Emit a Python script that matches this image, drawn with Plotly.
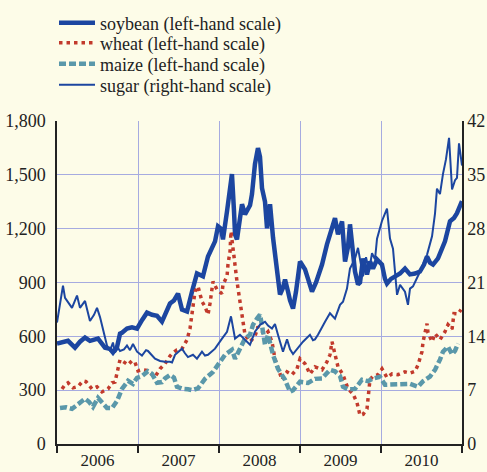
import plotly.graph_objects as go

# ---- data (x = decimal year) ----
soy_t = [2006.0, 2006.074, 2006.136, 2006.222, 2006.284, 2006.346, 2006.407, 2006.506, 2006.593, 2006.654,
         2006.691, 2006.741, 2006.778, 2006.802, 2006.864, 2006.926, 2006.988, 2007.049, 2007.111, 2007.173,
         2007.235, 2007.296, 2007.346, 2007.395, 2007.444, 2007.494, 2007.543, 2007.605, 2007.667, 2007.728,
         2007.802, 2007.864, 2007.951, 2007.988, 2008.025, 2008.049, 2008.099, 2008.136, 2008.160, 2008.185,
         2008.198, 2008.222, 2008.259, 2008.284, 2008.321, 2008.346, 2008.383, 2008.407, 2008.444, 2008.481,
         2008.506, 2008.531, 2008.568, 2008.593, 2008.630, 2008.667, 2008.691, 2008.728, 2008.753, 2008.790,
         2008.815, 2008.852, 2008.877, 2008.914, 2008.951, 2009.0, 2009.037, 2009.062, 2009.099, 2009.148,
         2009.198, 2009.272, 2009.333, 2009.395, 2009.432, 2009.469, 2009.519, 2009.556, 2009.593, 2009.617,
         2009.654, 2009.679, 2009.716, 2009.741, 2009.778, 2009.827, 2009.864, 2009.901, 2009.951, 2010.012,
         2010.049, 2010.074, 2010.123, 2010.173, 2010.235, 2010.296, 2010.358, 2010.420, 2010.481, 2010.531,
         2010.568, 2010.605, 2010.642, 2010.704, 2010.741, 2010.790, 2010.852, 2010.901, 2010.938, 2010.975,
         2011.0]
soy_v = [559, 565, 575, 537, 570, 593, 575, 587, 537, 530,
         509, 540, 615, 620, 643, 650, 643, 690, 732, 720,
         715, 682, 730, 783, 800, 838, 749, 738, 850, 950,
         934, 1045, 1129, 1213, 1200, 1140, 1297, 1400, 1504, 1300,
         1168, 1140, 1250, 1336, 1280, 1297, 1330, 1392, 1560, 1649,
         1600, 1425, 1350, 1202, 1336, 1150, 1057, 950, 833, 870,
         917, 850, 800, 755, 850, 1017, 990, 973, 920, 850,
         900, 1000, 1112, 1200, 1258, 1168, 1241, 1017, 1100, 1224,
         1050, 961, 889, 900, 1034, 945, 1017, 978, 1028, 1000,
         920, 894, 920, 934, 950, 978, 945, 950, 961, 1000,
         1045, 1010, 1000, 1034, 1080, 1129, 1241, 1260, 1286, 1320,
         1353]

wheat_t = [2006.062, 2006.099, 2006.136, 2006.173, 2006.198, 2006.259, 2006.321, 2006.358, 2006.407, 2006.432,
           2006.494, 2006.556, 2006.630, 2006.679, 2006.716, 2006.741, 2006.753, 2006.778, 2006.815, 2006.840,
           2006.877, 2006.926, 2006.963, 2007.0, 2007.049, 2007.111, 2007.173, 2007.210, 2007.272, 2007.333,
           2007.395, 2007.420, 2007.481, 2007.543, 2007.580, 2007.605, 2007.642, 2007.667, 2007.704, 2007.741,
           2007.790, 2007.827, 2007.864, 2007.889, 2007.926, 2007.975, 2008.037, 2008.049, 2008.099, 2008.111,
           2008.136, 2008.148, 2008.173, 2008.198, 2008.222, 2008.259, 2008.296, 2008.321, 2008.383, 2008.444,
           2008.481, 2008.531, 2008.568, 2008.605, 2008.654, 2008.691, 2008.728, 2008.778, 2008.840, 2008.901,
           2008.963, 2009.0, 2009.062, 2009.123, 2009.185, 2009.272, 2009.333, 2009.370, 2009.395, 2009.432,
           2009.469, 2009.531, 2009.593, 2009.654, 2009.704, 2009.741, 2009.778, 2009.827, 2009.840, 2009.864,
           2009.901, 2009.963, 2010.012, 2010.074, 2010.136, 2010.210, 2010.296, 2010.358, 2010.420, 2010.457,
           2010.506, 2010.519, 2010.568, 2010.580, 2010.630, 2010.667, 2010.728, 2010.790, 2010.827, 2010.877,
           2010.901, 2010.951, 2010.988]
wheat_v = [307, 330, 341, 320, 313, 320, 352, 348, 320, 307,
           319, 291, 307, 341, 345, 391, 430, 470, 460, 453,
           441, 464, 455, 408, 414, 410, 390, 374, 419, 447,
           490, 503, 525, 531, 560, 581, 643, 727, 850, 878,
           794, 766, 721, 783, 906, 861, 838, 889, 934, 1001,
           1073, 1185, 1090, 978, 906, 794, 682, 609, 570, 600,
           654, 630, 609, 626, 570, 475, 419, 358, 402, 386,
           419, 475, 447, 390, 430, 414, 458, 497, 570, 500,
           430, 386, 307, 280, 230, 160, 165, 196, 274, 358,
           379, 386, 419, 370, 391, 386, 402, 395, 405, 441,
           514, 570, 671, 620, 570, 615, 581, 626, 665, 640,
           727, 725, 749]

maize_t = [2006.037, 2006.111, 2006.185, 2006.259, 2006.346, 2006.395, 2006.444, 2006.506, 2006.568, 2006.617,
           2006.679, 2006.741, 2006.802, 2006.877, 2006.938, 2006.988, 2007.049, 2007.123, 2007.173, 2007.235,
           2007.296, 2007.333, 2007.395, 2007.444, 2007.481, 2007.556, 2007.617, 2007.667, 2007.741, 2007.827,
           2007.926, 2008.012, 2008.074, 2008.160, 2008.198, 2008.259, 2008.321, 2008.383, 2008.420, 2008.469,
           2008.506, 2008.531, 2008.568, 2008.605, 2008.667, 2008.728, 2008.815, 2008.877, 2008.914, 2009.0,
           2009.099, 2009.185, 2009.272, 2009.370, 2009.432, 2009.494, 2009.531, 2009.593, 2009.679, 2009.765,
           2009.840, 2009.901, 2009.988, 2010.049, 2010.136, 2010.259, 2010.358, 2010.457, 2010.519, 2010.605,
           2010.667, 2010.728, 2010.765, 2010.827, 2010.877, 2010.914, 2010.951]
maize_v = [201, 205, 196, 224, 252, 235, 207, 257, 220, 201,
           200, 240, 307, 352, 335, 369, 378, 405, 391, 341,
           345, 365, 385, 370, 319, 307, 305, 300, 310, 363,
           402, 458, 497, 525, 475, 531, 587, 609, 665, 699,
           721, 660, 553, 609, 497, 419, 358, 291, 300, 347,
           340, 363, 365, 414, 405, 379, 319, 305, 307, 358,
           350, 365, 374, 330, 332, 330, 335, 319, 350, 376,
           414, 470, 514, 542, 500, 520, 559]

sugar_t = [2006.0, 2006.037, 2006.074, 2006.099, 2006.123, 2006.185, 2006.247, 2006.284, 2006.346, 2006.407,
           2006.457, 2006.494, 2006.531, 2006.568, 2006.617, 2006.654, 2006.691, 2006.716, 2006.753, 2006.778,
           2006.827, 2006.864, 2006.901, 2006.938, 2006.988, 2007.049, 2007.099, 2007.123, 2007.173, 2007.210,
           2007.272, 2007.333, 2007.395, 2007.420, 2007.457, 2007.543, 2007.580, 2007.617, 2007.679, 2007.728,
           2007.790, 2007.827, 2007.864, 2007.951, 2008.037, 2008.099, 2008.148, 2008.198, 2008.259, 2008.321,
           2008.383, 2008.444, 2008.506, 2008.568, 2008.605, 2008.654, 2008.691, 2008.728, 2008.790, 2008.840,
           2008.877, 2008.914, 2008.963, 2009.037, 2009.123, 2009.160, 2009.185, 2009.222, 2009.309, 2009.370,
           2009.432, 2009.494, 2009.531, 2009.580, 2009.617, 2009.679, 2009.716, 2009.741, 2009.778, 2009.815,
           2009.852, 2009.889, 2009.926, 2009.951, 2010.012, 2010.074, 2010.111, 2010.148, 2010.198, 2010.235,
           2010.296, 2010.333, 2010.358, 2010.395, 2010.481, 2010.568, 2010.630, 2010.667, 2010.691, 2010.728,
           2010.765, 2010.802, 2010.840, 2010.877, 2010.914, 2010.938, 2010.963, 2011.0]
sugar_v = [15.8, 18.5, 20.6, 19.0, 18.6, 17.7, 19.3, 17.7, 18.6, 16.0,
           16.8, 17.7, 16.5, 15.0, 12.8, 12.1, 13.2, 11.9, 12.5, 12.1,
           12.3, 12.8, 12.2, 13.0, 12.0, 11.5, 12.2, 12.1, 11.5, 11.1,
           10.8, 10.7, 10.7, 10.6, 11.6, 12.4, 11.8, 11.3, 11.6, 11.1,
           12.0, 11.5, 11.6, 12.4, 13.7, 14.6, 16.6, 13.7, 14.2, 13.6,
           12.9, 14.6, 15.5, 15.9, 15.4, 15.0, 15.6, 14.2, 12.0, 13.6,
           12.3, 11.7, 12.4, 13.3, 14.2, 13.5, 13.6, 14.2, 15.9, 17.0,
           16.3, 18.1, 18.5, 20.2, 22.8, 24.1, 25.5, 24.0, 21.8, 24.3,
           22.5, 24.8, 24.0, 26.7, 29.0, 30.6, 26.7, 25.4, 19.4, 20.7,
           19.8, 18.1, 20.2, 20.5, 22.4, 24.6, 27.0, 30.0, 33.2, 32.5,
           35.1, 37.0, 39.8, 33.1, 34.3, 34.6, 39.1, 36.2]

years = ["2006", "2007", "2008", "2009", "2010"]
year_mid = [2006.5, 2007.5, 2008.5, 2009.5, 2010.5]
year_bounds = [2006, 2007, 2008, 2009, 2010, 2011]
left_ticks = [0, 300, 600, 900, 1200, 1500, 1800]
left_text = ["0", "300", "600", "900", "1,200", "1,500", "1,800"]
right_ticks = [0, 7, 14, 21, 28, 35, 42]

BLUE = "#1c46a0"
RED = "#c23a2c"
TEAL = "#5a98aa"
GRID = "#a6abe0"
BG = "#fdfce8"
FONT = "Liberation Serif"

fig = go.Figure()
fig.add_trace(go.Scatter(x=soy_t, y=soy_v, mode="lines", name="soybean (left-hand scale)",
                         line=dict(color=BLUE, width=4.5), legend="legend"))
fig.add_trace(go.Scatter(x=wheat_t, y=wheat_v, mode="lines", name="wheat (left-hand scale)",
                         line=dict(color=RED, width=3.5, dash="3.5px,4px"), legend="legend2"))
fig.add_trace(go.Scatter(x=maize_t, y=maize_v, mode="lines", name="maize (left-hand scale)",
                         line=dict(color=TEAL, width=4.5, dash="7px,3px"), legend="legend3"))
fig.add_trace(go.Scatter(x=sugar_t, y=sugar_v, mode="lines", name="sugar (right-hand scale)",
                         line=dict(color=BLUE, width=2), yaxis="y2", legend="legend4"))

def leg(ypx):
    return dict(x=-3 / 405, y=(444 - ypx) / 323, xanchor="left", yanchor="middle",
                bgcolor="rgba(0,0,0,0)", font=dict(family=FONT, size=18, color="#222222"),
                itemwidth=36)

fig.update_layout(
    width=487, height=472,
    margin=dict(l=57, r=25, t=121, b=28, autoexpand=False),
    paper_bgcolor=BG, plot_bgcolor=BG,
    font=dict(family=FONT, size=17, color="#222222"),
    showlegend=True,
    legend=leg(23), legend2=leg(43), legend3=leg(64), legend4=leg(85),
    xaxis=dict(range=[2006, 2011], tickmode="array", tickvals=year_mid, ticktext=years,
               showgrid=False, ticks="", zeroline=False,
               showline=True, linecolor="#222222", linewidth=1.5,
               minor=dict(tickmode="array", tickvals=year_bounds, showgrid=True,
                          gridcolor=GRID, gridwidth=1, ticks="outside", ticklen=7,
                          tickcolor="#222222", tickwidth=1.5),
               tickfont=dict(size=17)),
    yaxis=dict(range=[0, 1800], tickmode="array", tickvals=left_ticks, ticktext=left_text,
               showgrid=True, gridcolor=GRID, gridwidth=1, zeroline=False,
               showline=True, linecolor="#222222", linewidth=1.5, ticks="",
               ticklabelstandoff=6, tickfont=dict(size=18)),
    yaxis2=dict(range=[0, 42], tickmode="array", tickvals=right_ticks, overlaying="y", side="right",
                showgrid=False, zeroline=False, showline=True, linecolor="#222222", linewidth=1.5,
                ticks="", tickfont=dict(size=18)),
)

fig.write_html("out.html", config={"displayModeBar": False},
               post_script="document.body.style.margin='0';document.body.style.padding='0';"
                           "document.body.style.overflow='hidden';")
